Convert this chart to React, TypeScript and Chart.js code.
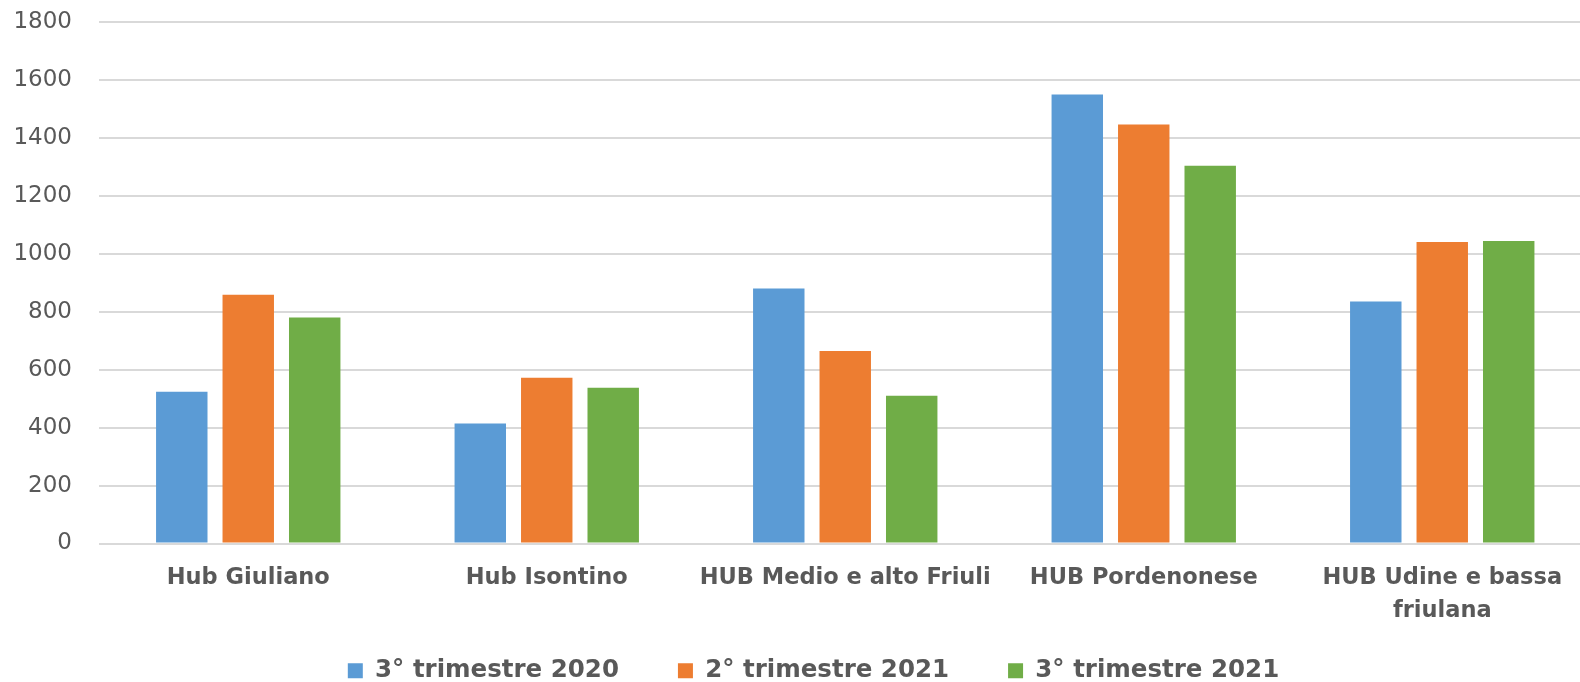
import React, { useEffect, useRef } from 'react';
import { Chart, registerables } from 'chart.js';

Chart.register(...registerables);

const categories: (string | string[])[] = [
  'Hub Giuliano',
  'Hub Isontino',
  'HUB Medio e alto Friuli',
  'HUB Pordenonese',
  ['HUB Udine e bassa', 'friulana'],
];
const seriesLabels = ['3° trimestre 2020', '2° trimestre 2021', '3° trimestre 2021'];
const q3_2020 = [524, 414, 880, 1550, 835];
const q2_2021 = [859, 572, 664, 1446, 1041];
const q3_2021 = [780, 538, 510, 1304, 1044];
const yMin = 0;
const yMax = 1800;
const yStep = 200;

const colors = ['#5B9BD5', '#ED7D31', '#70AD47'];
const textColor = '#595959';
const legendGap = '\u2002'.repeat(4);

export default function App() {
  const ref = useRef<HTMLCanvasElement | null>(null);

  useEffect(() => {
    if (!ref.current) return;
    const series = [q3_2020, q2_2021, q3_2021];
    const defaultGen = (Chart.defaults as any).plugins.legend.labels.generateLabels;
    const chart = new Chart(ref.current, {
      type: 'bar',
      data: {
        labels: categories,
        datasets: series.map((d, i) => ({
          label: seriesLabels[i],
          data: d,
          backgroundColor: colors[i],
          borderWidth: 0,
          categoryPercentage: 0.668,
          barPercentage: 0.774,
        })),
      },
      options: {
        animation: false,
        responsive: false,
        devicePixelRatio: 1,
        layout: { padding: { left: 0, top: 22, right: 0, bottom: -11 } },
        plugins: {
          tooltip: { enabled: false },
          legend: {
            position: 'bottom',
            labels: {
              color: textColor,
              boxWidth: 15,
              boxHeight: 15,
              padding: 10,
              font: { family: 'DejaVu Sans', size: 24.5, weight: 'bold' },
              generateLabels: (c: any) => {
                const items = defaultGen(c);
                return items.map((it: any, i: number) => ({
                  ...it,
                  text: i < items.length - 1 ? it.text + legendGap : it.text,
                }));
              },
            },
          },
        },
        scales: {
          x: {
            grid: { display: false, drawTicks: false },
            border: { display: false },
            ticks: {
              color: textColor,
              autoSkip: false,
              maxRotation: 0,
              minRotation: 0,
              padding: 17.5,
              font: { family: 'DejaVu Sans', size: 22.5, weight: 'bold', lineHeight: 1.5 },
            },
            afterFit: (scale: any) => {
              scale.height = 105;
              scale.paddingLeft = 0;
              scale.paddingRight = 0;
            },
          },
          y: {
            min: yMin,
            max: yMax,
            grid: { color: '#D9D9D9', lineWidth: 2, drawTicks: false },
            border: { display: false },
            ticks: {
              stepSize: yStep,
              color: textColor,
              padding: 27,
              font: { family: 'DejaVu Sans', size: 23 },
              callback: (v: any) => String(v),
            },
            afterFit: (scale: any) => {
              scale.width = 99;
              scale.paddingTop = 0;
              scale.paddingBottom = 0;
            },
          },
          yRightSpacer: {
            type: 'linear',
            position: 'right',
            display: true,
            grid: { display: false, drawTicks: false },
            border: { display: false },
            ticks: { display: false },
            afterFit: (scale: any) => {
              scale.width = 35.5;
              scale.paddingTop = 0;
              scale.paddingBottom = 0;
            },
          },
        },
      },
    } as any);
    return () => chart.destroy();
  }, []);

  return (
    <div
      style={{
        position: 'fixed',
        left: 0,
        top: 0,
        width: 1580,
        height: 682,
        overflow: 'hidden',
        background: '#ffffff',
      }}
    >
      <canvas ref={ref} width={1627} height={682} style={{ display: 'block', width: 1627, height: 682 }} />
    </div>
  );
}
